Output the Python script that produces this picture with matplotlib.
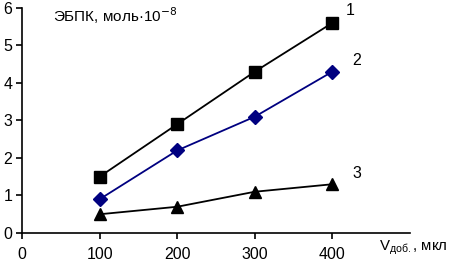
import matplotlib
matplotlib.use("Agg")
import matplotlib.pyplot as plt

plt.rcParams["font.family"] = ["Liberation Sans", "DejaVu Sans"]

# Added volume (mkl) and EBPK amounts for the three curves
v_add = [100, 200, 300, 400]
ebpk_1 = [1.5, 2.9, 4.3, 5.6]
ebpk_2 = [0.9, 2.2, 3.1, 4.3]
ebpk_3 = [0.5, 0.7, 1.1, 1.3]
curve_names = ["1", "2", "3"]
x_ticks = [0, 100, 200, 300, 400]
y_ticks = [0, 1, 2, 3, 4, 5, 6]

fig = plt.figure(figsize=(4.49, 2.63), dpi=100)
ax = fig.add_axes([0.049, 0.114, 0.864, 0.856])

ax.plot(v_add, ebpk_1, color="black", lw=1.3, marker="s", ms=8)
ax.plot(v_add, ebpk_2, color="#000080", lw=1.3, marker="D", ms=7.5)
ax.plot(v_add, ebpk_3, color="black", lw=1.3, marker="^", ms=8.5)

# curve numbers next to the last points
ax.text(v_add[-1] + 17, ebpk_1[-1] + 0.32, curve_names[0], fontsize=11.5, va="center")
ax.text(v_add[-1] + 26, ebpk_2[-1] + 0.3, curve_names[1], fontsize=11.5, va="center")
ax.text(v_add[-1] + 26, ebpk_3[-1] + 0.28, curve_names[2], fontsize=11.5, va="center")

ax.set_xlim(0, 500)
ax.set_ylim(0, 6)
ax.set_xticks(x_ticks)
ax.set_yticks(y_ticks)
ax.tick_params(labelsize=11.5, width=1.2, length=4, pad=6)
ax.tick_params(axis="y", pad=3)
for s in ["top", "right"]:
    ax.spines[s].set_visible(False)
for s in ["left", "bottom"]:
    ax.spines[s].set_linewidth(1.2)

fig.text(0.118, 0.94, "ЭБПК, моль·10$^{-8}$", fontsize=11, va="center")
fig.text(0.843, 0.057, "V$_{\\mathregular{доб.}}$, мкл", fontsize=10.8, va="center")

fig.savefig("out.png", dpi=100)
